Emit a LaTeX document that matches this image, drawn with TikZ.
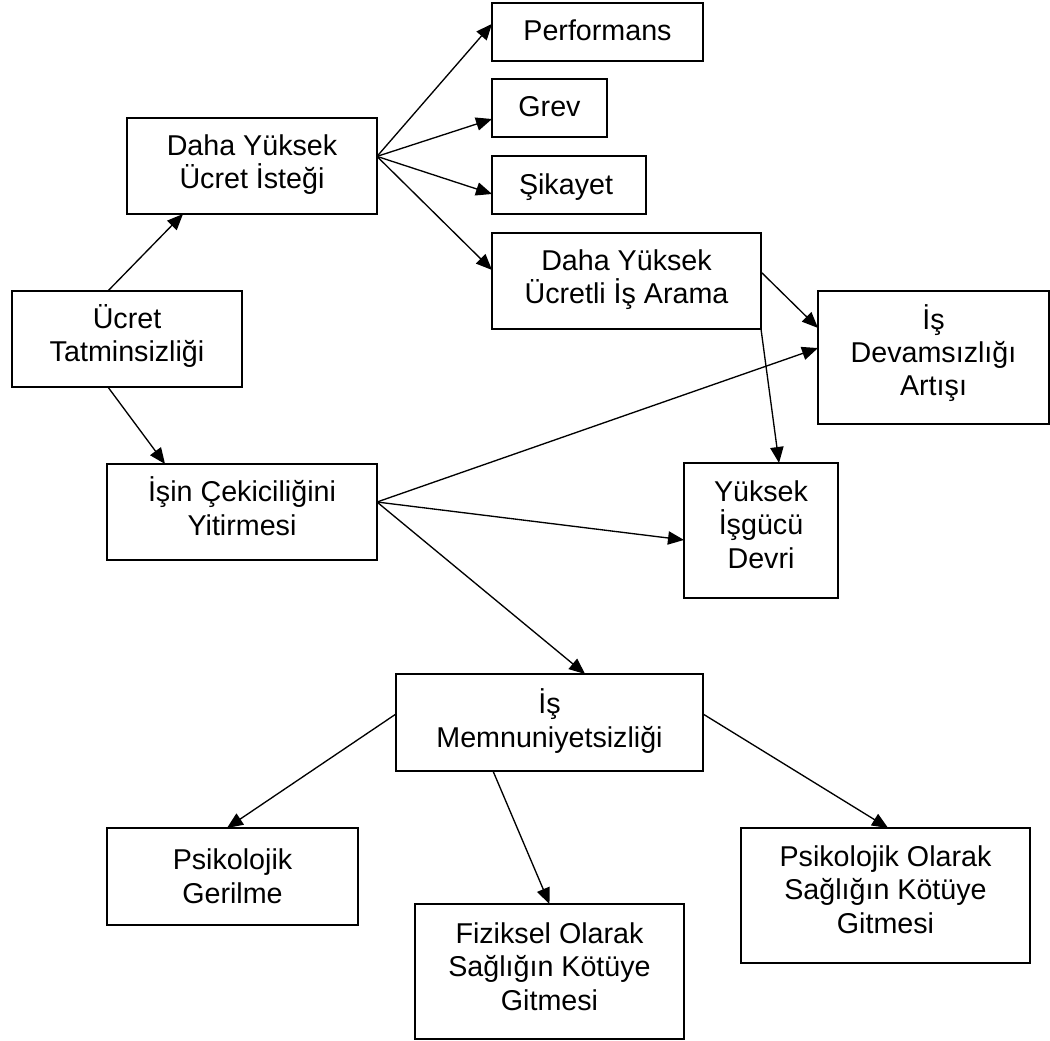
\documentclass[tikz,border=0pt]{standalone}
\usepackage{fontspec}
\setmainfont{Liberation Sans}
\usetikzlibrary{arrows.meta,fit,calc}

\tikzset{
  box/.style={draw, line width=1.3pt, inner sep=0pt, outer sep=0pt},
  % labels sit on the baseline of their last line
  lbl/.style={inner sep=0pt, align=center, anchor=base,
              font=\fontsize{21.5pt}{25pt}\selectfont},
  arr/.style={line width=1pt, -{Triangle[length=12pt,width=10pt]}}
}

\begin{document}
\begin{tikzpicture}[x=0.75pt,y=-0.75pt]
\useasboundingbox[fill=white] (0,0) rectangle (1050,1041);

% boxes, given by their corners
\node[box, fit={(492,3) (703,61)}]     (perf)  {};
\node[box, fit={(492,79) (607,137)}]   (grev)  {};
\node[box, fit={(492,156) (646,214)}]  (sik)   {};
\node[box, fit={(492,233) (761,329)}]  (arama) {};
\node[box, fit={(127,118) (377,214)}]  (istek) {};
\node[box, fit={(12,291) (242,387)}]   (ucret) {};
\node[box, fit={(818,291) (1049,424)}] (devam) {};
\node[box, fit={(107,464) (377,560)}]  (cekic) {};
\node[box, fit={(684,463) (838,598)}]  (devir) {};
\node[box, fit={(396,674) (703,771)}]  (memn)  {};
\node[box, fit={(107,828) (358,925)}]  (geril) {};
\node[box, fit={(415,904) (684,1039)}] (fiz)   {};
\node[box, fit={(741,828) (1030,963)}] (psi)   {};

% labels
\node[lbl] (perf-t)  at (597.5,41)  {Performans};
\node[lbl] (grev-t)  at (549.5,117) {Grev};
\node[lbl] (sik-t)   at (566,195)   {Şikayet};
\node[lbl] (arama-t) at (626.5,304) {Daha Yüksek\\Ücretli İş Arama};
\node[lbl] (istek-t) at (252,189)   {Daha Yüksek\\Ücret İsteği};
\node[lbl] (ucret-t) at (127,362)   {Ücret\\Tatminsizliği};
\node[lbl] (devam-t) at (933.5,396) {İş\\Devamsızlığı\\Artışı};
\node[lbl] (cekic-t) at (242,535)   {İşin Çekiciliğini\\Yitirmesi};
\node[lbl] (devir-t) at (761,568)   {Yüksek\\İşgücü\\Devri};
\node[lbl] (memn-t)  at (549.5,747) {İş\\Memnuniyetsizliği};
\node[lbl] (geril-t) at (232.5,903) {Psikolojik\\Gerilme};
\node[lbl] (fiz-t)   at (549.5,1010) {Fiziksel Olarak\\Sağlığın Kötüye\\Gitmesi};
\node[lbl] (psi-t)   at (885.5,933) {Psikolojik Olarak\\Sağlığın Kötüye\\Gitmesi};

% connectors
\coordinate (istek-out) at ($(istek.north east)!0.4!(istek.south east)$);
\draw[arr] (istek-out) -- ($(perf.north west)!0.36!(perf.south west)$);
\draw[arr] (istek-out) -- ($(grev.north west)!0.69!(grev.south west)$);
\draw[arr] (istek-out) -- ($(sik.north west)!0.655!(sik.south west)$);
\draw[arr] (istek-out) -- ($(arama.north west)!0.385!(arama.south west)$);

\draw[arr] ($(ucret.north west)!0.417!(ucret.north east)$) -- ($(istek.south west)!0.224!(istek.south east)$);
\draw[arr] ($(ucret.south west)!0.417!(ucret.south east)$) -- ($(cekic.north west)!0.215!(cekic.north east)$);

\draw[arr] ($(arama.north east)!0.406!(arama.south east)$) -- ($(devam.north west)!0.278!(devam.south west)$);
\draw[arr] (arama.south east) -- ($(devir.north west)!0.617!(devir.north east)$);

\coordinate (cekic-out) at ($(cekic.north east)!0.396!(cekic.south east)$);
\draw[arr] (cekic-out) -- ($(devam.north west)!0.429!(devam.south west)$);
\draw[arr] (cekic-out) -- ($(devir.north west)!0.57!(devir.south west)$);
\draw[arr] (cekic-out) -- ($(memn.north west)!0.616!(memn.north east)$);

\draw[arr] ($(memn.north west)!0.412!(memn.south west)$) -- ($(geril.north west)!0.478!(geril.north east)$);
\draw[arr] ($(memn.south west)!0.316!(memn.south east)$) -- ($(fiz.north west)!0.5!(fiz.north east)$);
\draw[arr] ($(memn.north east)!0.412!(memn.south east)$) -- ($(psi.north west)!0.509!(psi.north east)$);
\end{tikzpicture}
\end{document}
